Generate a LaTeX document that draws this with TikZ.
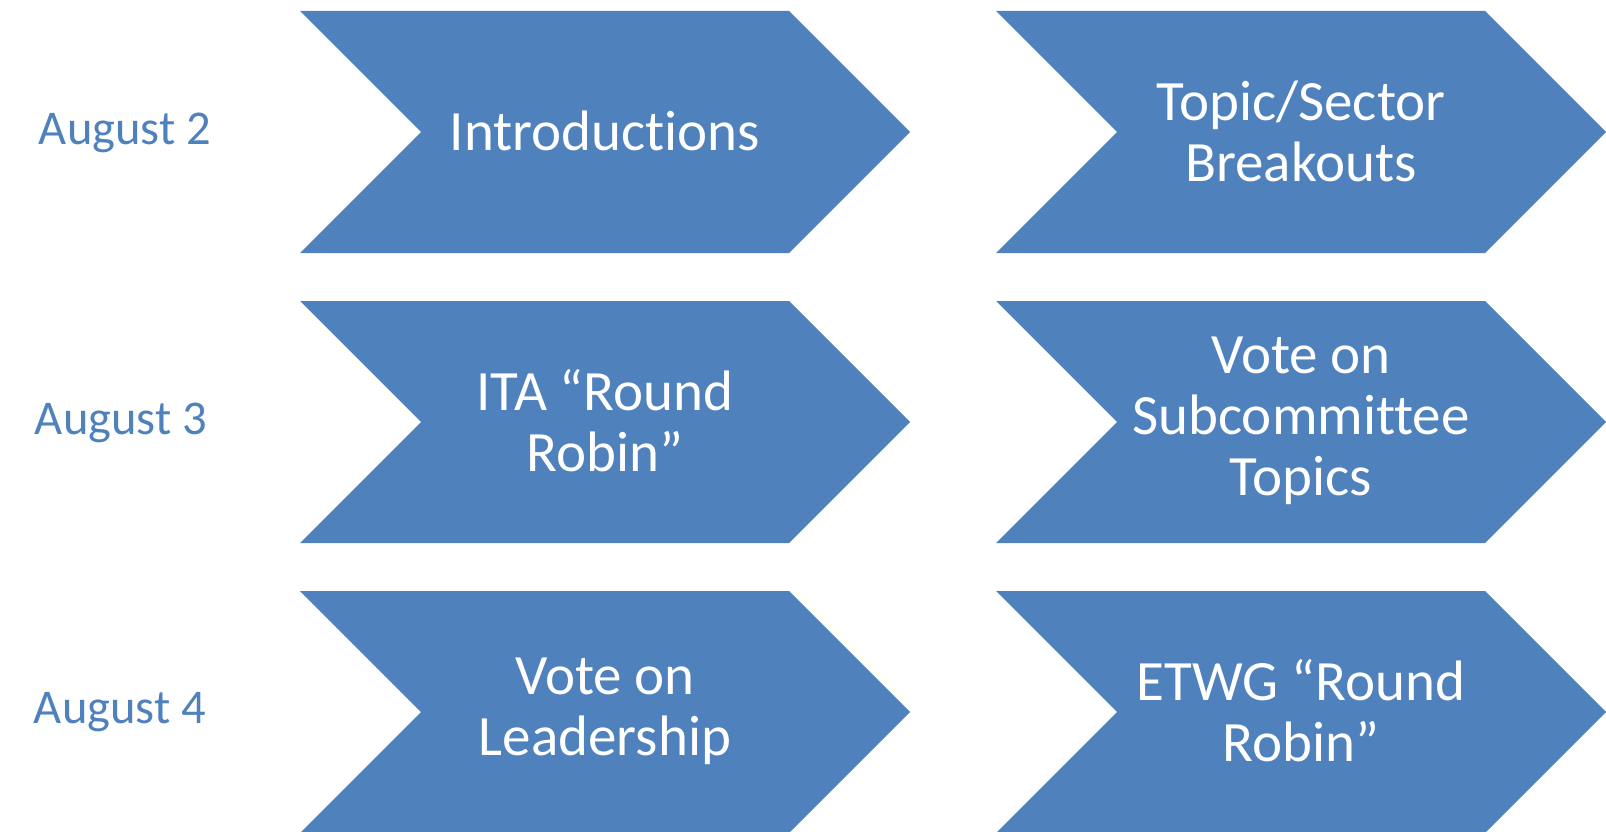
\documentclass[tikz,border=0pt]{standalone}
\usepackage{fontspec}
\setmainfont[Ligatures=NoCommon]{Carlito}
\definecolor{chevblue}{RGB}{79,129,189}
\definecolor{datecol}{RGB}{79,129,189}
\tikzset{
  chev/.style={fill=chevblue, draw=none},
  chevtext/.style={text=white, align=center, font=\fontsize{57}{61}\selectfont, inner sep=0pt},
  datetext/.style={text=datecol, font=\fontsize{48.5}{52}\selectfont, inner sep=0pt},
}
% #1 left x, #2 top y, #3 node name, #4 text
\newcommand{\chevron}[4]{%
  \fill[chev] (#1,#2) -- ++(489,0) -- ++(121,121) -- ++(-121,121) -- ++(-489,0) -- ++(121,-121) -- cycle;
  \node[chevtext] (#3) at (#1+305,#2+120) {#4};
}
\begin{document}
\begin{tikzpicture}[x=1pt,y=-1pt]
\useasboundingbox (0,0) rectangle (1606,832);
\chevron{300}{11}{intro}{Introductions}
\chevron{996}{11}{topic}{Topic/Sector\\Breakouts}
\chevron{300}{301}{ita}{ITA “Round\\Robin”}
\chevron{996}{301}{vote1}{Vote on\\Subcommittee\\Topics}
\chevron{300}{591}{vote2}{Vote on\\Leadership}
\chevron{996}{591}{etwg}{ETWG “Round\\Robin”}
\node[datetext] (d2) at (125,133) {August 2};
\node[datetext] (d3) at (121,423) {August 3};
\node[datetext] (d4) at (120,712) {August 4};
\end{tikzpicture}
\end{document}
